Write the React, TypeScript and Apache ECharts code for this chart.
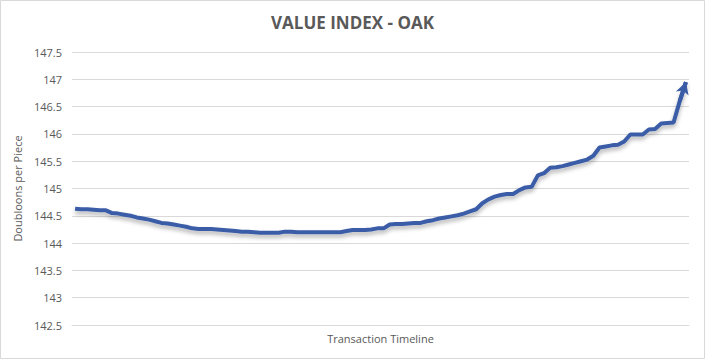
import React, { useEffect, useRef } from "react";
import * as echarts from "echarts";

const categories: string[] = Array.from({ length: 100 }, (_, i) => String(i + 1));

const values: number[] = [
  144.63, 144.62, 144.62, 144.61, 144.6, 144.6, 144.55, 144.54, 144.52, 144.5,
  144.47, 144.45, 144.43, 144.4, 144.37, 144.36, 144.34, 144.32, 144.3, 144.27,
  144.26, 144.26, 144.26, 144.25, 144.24, 144.23, 144.22, 144.21, 144.21, 144.2,
  144.19, 144.19, 144.19, 144.19, 144.21, 144.21, 144.2, 144.2, 144.2, 144.2,
  144.2, 144.2, 144.2, 144.2, 144.22, 144.24, 144.24, 144.24, 144.25, 144.27,
  144.27, 144.34, 144.35, 144.35, 144.36, 144.37, 144.37, 144.4, 144.42, 144.45,
  144.47, 144.49, 144.51, 144.54, 144.58, 144.62, 144.73, 144.8, 144.85, 144.88,
  144.9, 144.9, 144.97, 145.02, 145.03, 145.24, 145.28, 145.38, 145.39, 145.41,
  145.44, 145.47, 145.5, 145.53, 145.6, 145.75, 145.77, 145.79, 145.8, 145.86,
  145.99, 145.99, 145.99, 146.08, 146.09, 146.19, 146.2, 146.21, 146.6, 146.95,
];

const TITLE = "VALUE INDEX - OAK";
const Y_NAME = "Doubloons per Piece";
const X_NAME = "Transaction Timeline";
const Y_MIN = 142.5;
const Y_MAX = 147.5;
const Y_STEP = 0.5;

export default function App() {
  const ref = useRef<HTMLDivElement>(null);
  useEffect(() => {
    if (!ref.current) return;
    const chart = echarts.init(ref.current, undefined, { renderer: "svg" });
    const last = values.length - 1;
    chart.setOption({
      animation: false,
      backgroundColor: "#ffffff",
      textStyle: { fontFamily: "Open Sans" },
      title: {
        text: TITLE,
        left: "center",
        top: 9,
        textStyle: { fontFamily: "Open Sans", fontSize: 17, fontWeight: "bold", color: "#595959" },
      },
      graphic: [
        {
          type: "rect",
          shape: { x: 0.5, y: 0.5, width: 704, height: 358 },
          style: { fill: "none", stroke: "#d9d9d9", lineWidth: 1 },
          silent: true,
        },
      ],
      grid: { left: 72, right: 16, top: 52, bottom: 34 },
      xAxis: {
        type: "category",
        data: categories,
        boundaryGap: true,
        name: X_NAME,
        nameLocation: "middle",
        nameGap: 8,
        nameTextStyle: { fontFamily: "Open Sans", fontSize: 11, color: "#595959" },
        axisLine: { lineStyle: { color: "#d9d9d9", width: 1 } },
        axisTick: { show: false },
        axisLabel: { show: false },
        splitLine: { show: false },
      },
      yAxis: {
        type: "value",
        min: Y_MIN,
        max: Y_MAX,
        interval: Y_STEP,
        name: Y_NAME,
        nameLocation: "middle",
        nameGap: 35,
        nameTextStyle: { fontFamily: "Open Sans", fontSize: 11, color: "#595959" },
        axisLine: { show: false },
        axisTick: { show: false },
        axisLabel: { fontFamily: "Open Sans", fontSize: 11, color: "#595959", margin: 10 },
        splitLine: { lineStyle: { color: "#d9d9d9", width: 1 } },
      },
      series: [
        {
          type: "line",
          data: values,
          showSymbol: false,
          symbol: "none",
          lineStyle: {
            color: "#3a5ca6",
            width: 4,
            shadowColor: "rgba(0,0,0,0.3)",
            shadowBlur: 4,
            shadowOffsetY: 3,
          },
          markLine: {
            silent: true,
            symbol: ["none", "arrow"],
            symbolSize: [10, 12],
            label: { show: false },
            lineStyle: { color: "#3a5ca6", width: 4, type: "solid" },
            data: [
              [
                { coord: [last - 1, values[last - 1]] },
                { coord: [last, values[last]] },
              ],
            ],
          },
        },
      ],
    });
    return () => chart.dispose();
  }, []);
  return (
    <div
      ref={ref}
      style={{ position: "fixed", left: 0, top: 0, width: 705, height: 359 }}
    />
  );
}
